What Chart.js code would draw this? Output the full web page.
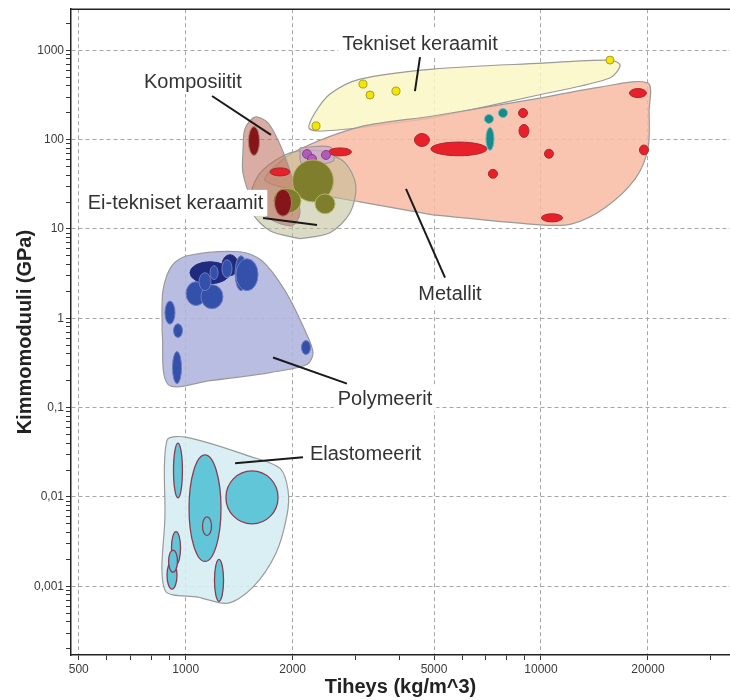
<!DOCTYPE html>
<html>
<head>
<meta charset="utf-8">
<script src="https://cdn.jsdelivr.net/npm/chart.js@4.4.1/dist/chart.umd.min.js"></script>
<style>
  html, body { margin: 0; padding: 0; background: #fff; }
  #wrap { width: 730px; height: 700px; }
</style>
</head>
<body>
<div id="wrap"><canvas id="ashby" width="730" height="700"></canvas></div>
<script>
const FONT = "'Liberation Sans', Arial, sans-serif";

// axis ticks
const xMajor = [500, 1000, 2000, 5000, 10000, 20000];
const xMinor = [600, 700, 800, 900, 3000, 4000, 6000, 7000, 8000, 9000, 30000];
const yMajor = [0.001, 0.01, 0.1, 1, 10, 100, 1000];
const yMajorLabels = ['0,001', '0,01', '0,1', '1', '10', '100', '1000'];
const yDecades = [0.0001, 0.001, 0.01, 0.1, 1, 10, 100, 1000];
const minorSteps = [2, 3, 4, 5, 6, 7, 8, 9];

// material envelopes, points are [density kg/m^3, modulus GPa]
const elastomeerit = [[874, 0.00625], [886, 0.043], [1009, 0.0465], [1517, 0.0285], [1843, 0.0209], [1941, 0.0119],
  [1928, 0.00625], [1795, 0.00235], [1546, 0.00098], [1315, 0.000649], [1083, 0.000757], [874, 0.000906], [874, 0.00625]];
const polymeerit = [[858, 0.729], [863, 2.04], [915, 3.88], [1009, 5.02], [1422, 5.56], [1639, 4.41], [1903, 2.04],
  [2167, 0.729], [2282, 0.414], [2195, 0.304], [1727, 0.247], [1171, 0.201], [892, 0.182], [858, 0.729]];
const teknisetKeraamit = [[4966, 175], [3034, 135], [2388, 125], [2223, 135], [2310, 199], [2547, 324], [3094, 476],
  [4966, 617], [10130, 719], [15630, 777], [16700, 684], [15630, 489], [10130, 324], [4966, 175]];
const metallit = [[4966, 14.4], [3094, 20.1], [2097, 26.7], [1672, 34.5], [1784, 50.8], [2097, 78.7], [3094, 139],
  [4966, 184], [9936, 292], [14660, 388], [20000, 430], [20150, 209], [20000, 78.7], [18410, 36.4], [15140, 17.3],
  [12220, 11.4], [9936, 11.1], [4966, 14.4]];
const lasit = [[2097, 80.8], [2547, 82.8], [2598, 57.8], [2125, 53.5], [2097, 80.8]];
const eiTekniset = [[2097, 7.77], [1727, 9.55], [1537, 15.2], [1517, 23.4], [1639, 44.7], [1966, 71.0], [2388, 74.8],
  [2809, 55.0], [3013, 30.4], [2901, 15.2], [2547, 9.08], [2097, 7.77]];
const komposiitit = [[1449, 74.8], [1468, 132], [1567, 179], [1705, 154], [1866, 78.7], [2004, 34.6], [2097, 15.2],
  [1992, 10.9], [1727, 13.0], [1537, 21.8], [1449, 42.5], [1449, 74.8]];

// single materials as ranges: [density min, density max, modulus min, modulus max]
const elastomeeriAlueet = [[924, 979, 0.0098, 0.040], [1022, 1257, 0.0019, 0.0296], [1115, 1182, 0.0037, 0.0060],
  [1298, 1819, 0.0050, 0.0196], [912, 967, 0.00175, 0.0041], [886, 945, 0.00093, 0.0019], [895, 948, 0.00144, 0.00254],
  [1205, 1278, 0.00068, 0.0020]];
const polymeeriTummat = [[1028, 1332, 2.44, 4.30], [1265, 1404, 3.0, 5.15]];
const polymeeriAlueet = [[874, 933, 0.86, 1.56], [924, 979, 0.61, 0.87], [918, 973, 0.186, 0.425], [2118, 2245, 0.393, 0.564],
  [1377, 1488, 2.04, 5.02], [1385, 1598, 2.04, 4.65], [1002, 1141, 1.39, 2.57], [1104, 1273, 1.28, 2.38],
  [1090, 1178, 2.04, 3.24], [1171, 1233, 2.71, 3.88], [1265, 1350, 2.85, 4.53]];
const keraamiAlueet = [[2268, 2388, 128, 158], [3074, 3238, 378, 465], [3217, 3388, 285, 350], [3807, 4010, 315, 388],
  [15240, 16050, 701, 861]];
const metalliAlueet = [[4405, 4853, 84, 117], [4898, 7046, 66, 94], [8645, 9162, 177, 223], [8670, 9250, 106, 148],
  [10230, 10840, 62, 78], [7110, 7545, 37, 46.5], [17740, 19810, 296, 373], [18930, 20070, 67.5, 87],
  [10030, 11500, 12.0, 14.8], [1727, 1966, 39.3, 48.3], [2523, 2929, 65.8, 80.8]];
const kevytmetallit = [[6930, 7350, 152, 191], [7590, 8050, 177, 223], [7000, 7375, 76, 137]];
const lasiAlueet = [[2132, 2260, 61.6, 77.6], [2411, 2556, 60, 75.7], [2202, 2334, 54.2, 68.3]];
const kiviAlueet = [[1998, 2606, 20.1, 59.3], [2312, 2632, 14.8, 24.7], [1761, 2111, 15.0, 28.5]];
const komposiittiAlueet = [[1502, 1613, 66.6, 140], [1778, 1985, 13.9, 27.8]];

const yMinor = [];
yDecades.forEach(d => minorSteps.forEach(s => { if (d * s < 2900 && d * s > 0.00017) yMinor.push(d * s); }));

// drawing order bottom -> top
const envelopes = [
  { data: elastomeerit, fill: 'rgba(213,237,243,0.9)' },
  { data: polymeerit, fill: 'rgba(177,182,223,0.9)' },
  { data: teknisetKeraamit, fill: 'rgba(250,247,196,0.85)' },
  { data: metallit, fill: 'rgba(249,187,162,0.85)' },
  { data: eiTekniset, fill: 'rgba(190,188,150,0.55)' },
  { data: komposiitit, fill: 'rgba(185,105,90,0.55)' },
  { data: lasit, fill: 'rgba(205,170,205,0.7)' }
];

const groups = [
  { data: elastomeeriAlueet, fill: '#62c6d9', stroke: '#8e3b50', lw: 1.3 },
  { data: polymeeriTummat, fill: '#1e2b7e', stroke: '#1e2b7e', lw: 1 },
  { data: polymeeriAlueet, fill: '#3350aa', stroke: '#6f7bc0', lw: 1 },
  { data: keraamiAlueet, fill: '#f3e600', stroke: '#a89b2a', lw: 1 },
  { data: metalliAlueet, fill: '#e8202a', stroke: '#a5282e', lw: 1 },
  { data: kevytmetallit, fill: '#178a8a', stroke: '#68b8b8', lw: 1 },
  { data: lasiAlueet, fill: '#b15bb8', stroke: '#8a3e92', lw: 1 },
  { data: kiviAlueet, fill: '#7e7e2c', stroke: '#b5b56a', lw: 1 },
  { data: komposiittiAlueet, fill: '#84161a', stroke: '#b07a70', lw: 1 }
];

// callouts: text anchor and pointer line, in data units
const callouts = [
  { text: 'Tekniset keraamit', at: [4565, 1202], from: [4565, 839], to: [4418, 350] },
  { text: 'Komposiitit', at: [1048, 453], from: [1186, 308], to: [1738, 113] },
  { text: 'Ei-tekniset keraamit', at: [936, 19.6], from: [1651, 13.3], to: [2342, 11.1] },
  { text: 'Metallit', at: [5545, 1.89], from: [5368, 2.85], to: [4169, 28.1] },
  { text: 'Polymeerit', at: [3638, 0.127], from: [2844, 0.186], to: [1761, 0.364] },
  { text: 'Elastomeerit', at: [3206, 0.0308], from: [2138, 0.0278], to: [1377, 0.0238] }
];

const ashbyPlugin = {
  id: 'ashby',
  afterDatasetsDraw(chart) {
    const { ctx, chartArea: a, scales: { x, y } } = chart;
    ctx.save();
    ctx.beginPath();
    ctx.rect(a.left, a.top, a.right - a.left, a.bottom - a.top);
    ctx.clip();

    groups.forEach(g => {
      g.data.forEach(([x0, x1, y0, y1]) => {
        const px0 = x.getPixelForValue(x0), px1 = x.getPixelForValue(x1);
        const py0 = y.getPixelForValue(y0), py1 = y.getPixelForValue(y1);
        ctx.beginPath();
        ctx.ellipse((px0 + px1) / 2, (py0 + py1) / 2, Math.abs(px1 - px0) / 2, Math.abs(py1 - py0) / 2, 0, 0, Math.PI * 2);
        ctx.fillStyle = g.fill;
        ctx.fill();
        ctx.lineWidth = g.lw;
        ctx.strokeStyle = g.stroke;
        ctx.stroke();
      });
    });

    ctx.strokeStyle = '#1a1a1a';
    ctx.lineWidth = 2;
    callouts.forEach(c => {
      ctx.beginPath();
      ctx.moveTo(x.getPixelForValue(c.from[0]), y.getPixelForValue(c.from[1]));
      ctx.lineTo(x.getPixelForValue(c.to[0]), y.getPixelForValue(c.to[1]));
      ctx.stroke();
    });

    ctx.font = '20px ' + FONT;
    ctx.textAlign = 'center';
    ctx.textBaseline = 'middle';
    callouts.forEach(c => {
      const cx = x.getPixelForValue(c.at[0]);
      const cy = y.getPixelForValue(c.at[1]);
      const w = ctx.measureText(c.text).width;
      ctx.fillStyle = '#fff';
      ctx.fillRect(cx - w / 2 - 4, cy - 13, w + 8, 26);
      ctx.fillStyle = '#333';
      ctx.fillText(c.text, cx, cy + 1);
    });
    ctx.restore();

    // frame line along the top
    ctx.save();
    ctx.strokeStyle = '#222';
    ctx.lineWidth = 1.5;
    ctx.beginPath();
    ctx.moveTo(a.left, a.top);
    ctx.lineTo(a.right, a.top);
    ctx.stroke();
    ctx.restore();
  }
};

const gridColor = majors => c => (c.tick && majors.includes(c.tick.value)) ? '#a6a6a6' : 'rgba(0,0,0,0)';

new Chart(document.getElementById('ashby'), {
  type: 'scatter',
  data: {
    datasets: envelopes.map((e, i) => ({
      data: e.data.map(([dx, dy]) => ({ x: dx, y: dy })),
      showLine: true,
      fill: 'shape',
      backgroundColor: e.fill,
      borderColor: '#9a9a9a',
      borderWidth: 1.2,
      pointRadius: 0,
      tension: 0.3,
      order: envelopes.length - i
    }))
  },
  options: {
    responsive: false,
    animation: false,
    events: [],
    layout: { padding: { top: 8, right: 0, bottom: 0, left: 0 } },
    plugins: { legend: { display: false }, tooltip: { enabled: false } },
    scales: {
      x: {
        type: 'logarithmic',
        min: 475.5,
        max: 34040,
        afterBuildTicks: s => { s.ticks = xMajor.concat(xMinor).sort((p, q) => p - q).map(v => ({ value: v })); },
        afterFit: s => { s.height = 45; },
        ticks: {
          autoSkip: false, maxRotation: 0, padding: 2, color: '#3a3a3a',
          font: { family: FONT, size: 12 },
          callback: v => xMajor.includes(v) ? String(v) : ''
        },
        grid: { color: gridColor(xMajor), tickColor: '#333', tickLength: 5, lineWidth: 1 },
        border: { display: true, color: '#222', width: 1.5, dash: [4, 3] },
        title: {
          display: true, text: 'Tiheys (kg/m^3)', color: '#222',
          font: { family: FONT, size: 20, weight: 'bold' }, padding: { top: 0, bottom: 1 }
        }
      },
      y: {
        type: 'logarithmic',
        min: 0.0001703,
        max: 2885,
        afterBuildTicks: s => { s.ticks = yMajor.concat(yMinor).sort((p, q) => p - q).map(v => ({ value: v })); },
        afterFit: s => { s.width = 71; },
        ticks: {
          autoSkip: false, padding: 2, color: '#3a3a3a',
          font: { family: FONT, size: 12 },
          callback: v => {
            const k = yMajor.indexOf(v);
            return k >= 0 ? yMajorLabels[k] : '';
          }
        },
        grid: { color: gridColor(yMajor), tickColor: '#333', tickLength: 5, lineWidth: 1 },
        border: { display: true, color: '#222', width: 1.5, dash: [4, 3] },
        title: {
          display: true, text: 'Kimmomoduuli (GPa)', color: '#222',
          font: { family: FONT, size: 20, weight: 'bold' }, padding: { top: 13, bottom: 0 }
        }
      }
    }
  },
  plugins: [ashbyPlugin]
});
</script>
</body>
</html>
